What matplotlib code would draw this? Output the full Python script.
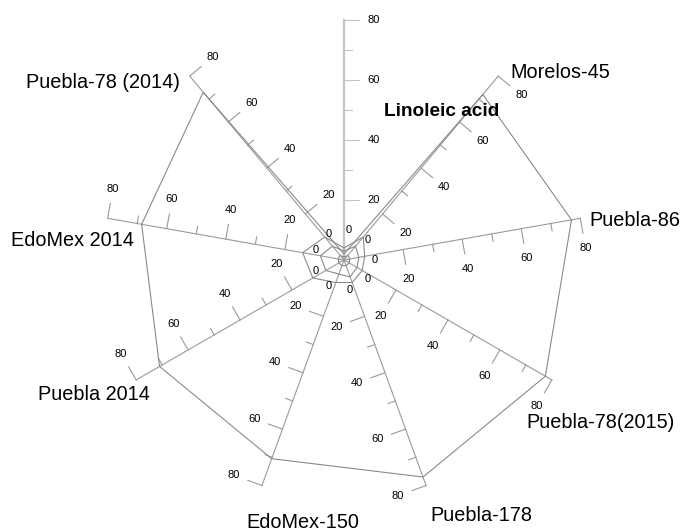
import matplotlib.pyplot as plt
import numpy as np

plt.rcParams['font.family'] = ['Liberation Sans', 'DejaVu Sans']

# categories clockwise from the top (top spoke has no name)
categories = ['', 'Morelos-45', 'Puebla-86', 'Puebla-78(2015)', 'Puebla-178',
              'EdoMex-150', 'Puebla 2014', 'EdoMex 2014', 'Puebla-78 (2014)']

# series values (%)
linoleic = [2, 72, 77, 77.5, 77, 70.5, 71, 68.5, 73]
inner_a = [4, 10, 7, 7, 8, 8, 12, 14, 10]
inner_b = [3, 6, 5, 5, 6, 5, 7, 8, 6]
inner_c = [1, 2, 2, 2, 2, 2, 2, 2, 2]

major_ticks = [20, 40, 60, 80]
minor_ticks = [30, 50, 70]
rmax = 80

# label offsets (pixels) from the end of each spoke
label_offsets = [None, (62, 4), (55, -2), (49, -43), (55, -30),
                 (41, -37), (-42, -15), (-35, -22), (-87, -6)]

fig = plt.figure(figsize=(6.82, 5.32), dpi=100)
ax = fig.add_axes([0.1525, 0.0602, 0.7038, 0.9023], projection='polar')
ax.set_theta_zero_location('N')
ax.set_theta_direction(-1)
ax.set_ylim(0, rmax)
ax.axis('off')

n = len(categories)
angles = np.arange(n) * 2 * np.pi / n
axis_col = '#9a9a9a'
line_col = '#8a8a8a'


def side(theta, r, d):
    # point at distance d (data units) to the clockwise side of spoke theta at radius r
    return theta + np.arctan2(d, r), np.hypot(r, d)


for i, th in enumerate(angles):
    col = '#c4c4c4' if i == 0 else axis_col
    lw = 1.6 if i == 0 else 0.8
    ax.plot([th, th], [0, rmax], color=col, lw=lw, clip_on=False, zorder=1)
    for t in major_ticks:
        t2, r2 = side(th, t, 5)
        ax.plot([th, t2], [t, r2], color=col, lw=0.8, clip_on=False, zorder=1)
        lt, lr = side(th, t, 10)
        ax.text(lt, lr, str(t), fontsize=8, ha='center', va='center')
    for t in minor_ticks:
        t2, r2 = side(th, t, 2.5)
        ax.plot([th, t2], [t, r2], color=col, lw=0.8, clip_on=False, zorder=1)
    # zero label sits near the centre
    zt, zr = side(th, 10, 1.7)
    ax.text(zt, zr, '0', fontsize=8, ha='center', va='center')
    if categories[i]:
        ax.annotate(categories[i], xy=(th, rmax), xytext=label_offsets[i],
                    textcoords='offset pixels', fontsize=14.3,
                    ha='center', va='center', annotation_clip=False)

for vals in [linoleic, inner_a, inner_b, inner_c]:
    v = list(vals) + vals[:1]
    a = list(angles) + [angles[0]]
    ax.plot(a, v, color=line_col, lw=0.8, clip_on=False, zorder=2)

fig.text(442 / 682, 1 - 112 / 532, 'Linoleic acid', fontsize=13.7,
         fontweight='bold', ha='center', va='center')

fig.savefig('out.png', dpi=100)
